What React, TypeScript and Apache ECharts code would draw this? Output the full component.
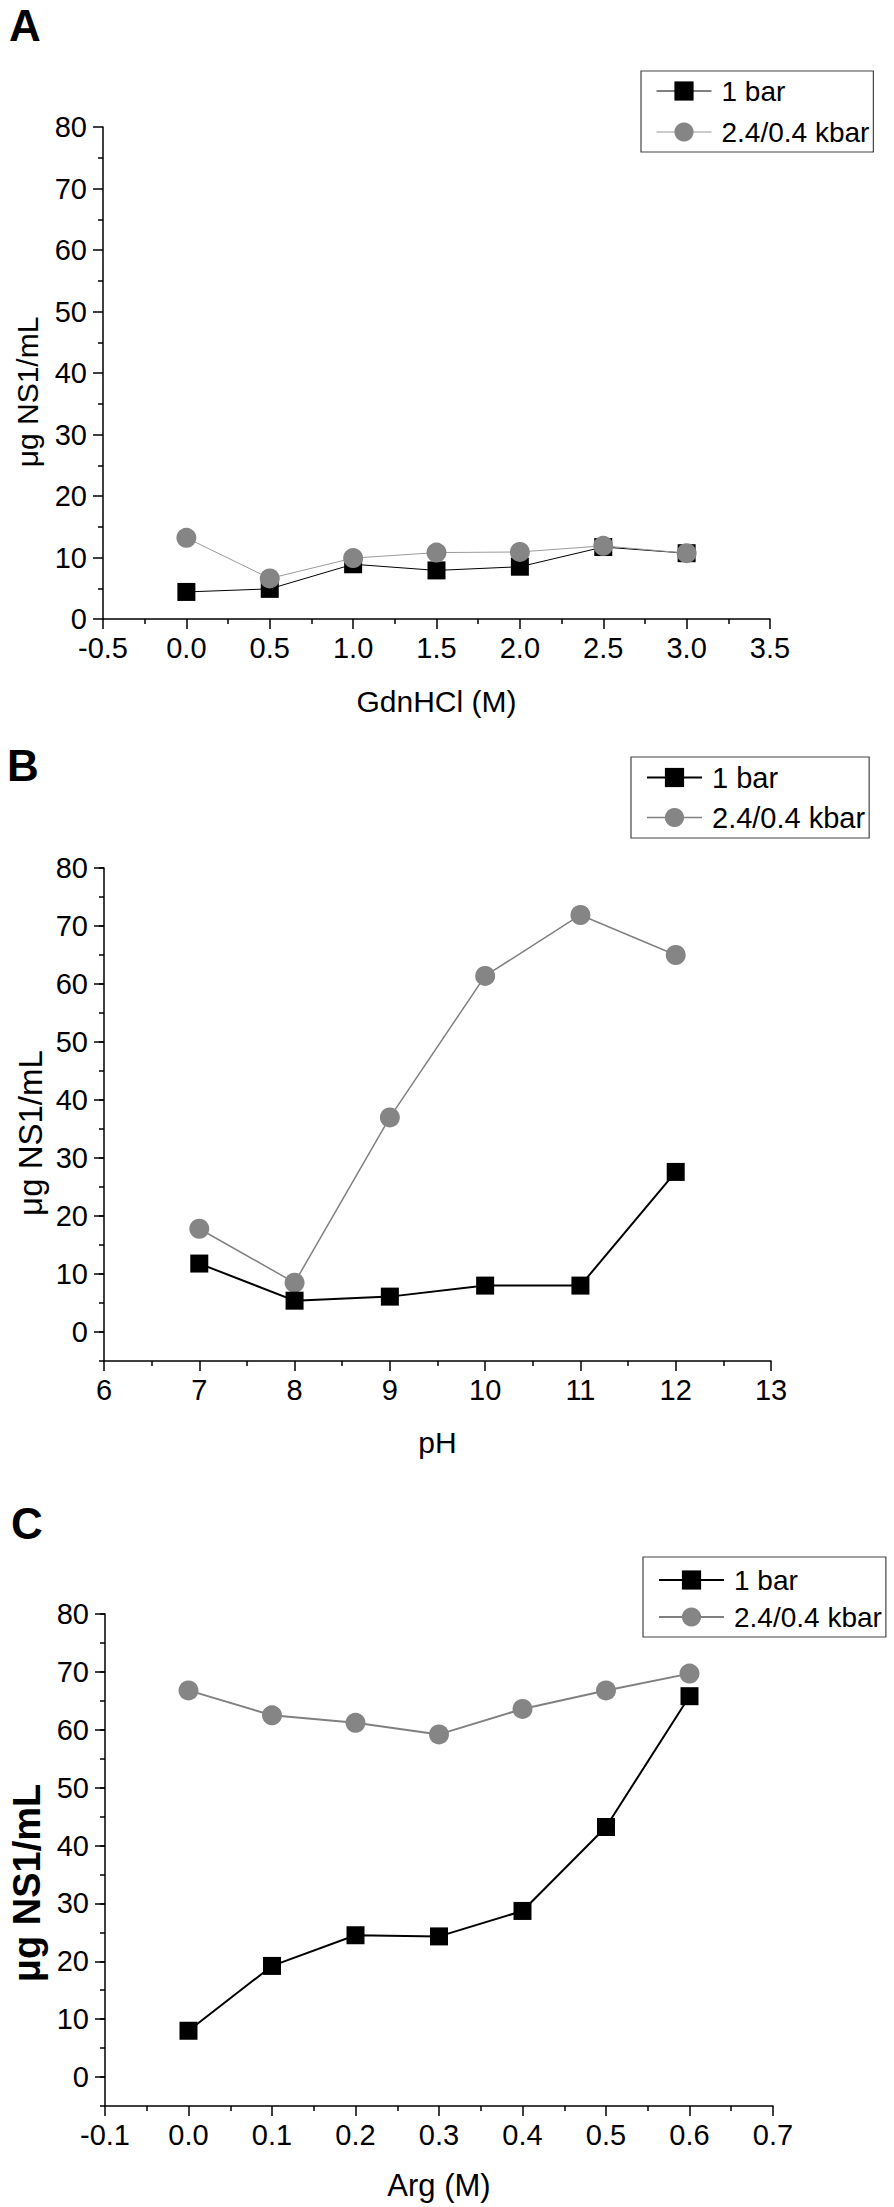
import React, { useEffect, useRef } from "react";
import * as echarts from "echarts";

// Panel A: GdnHCl (M)
const gdnX = [0, 0.5, 1.0, 1.5, 2.0, 2.5, 3.0];
const gdn1bar = [4.4, 4.9, 8.9, 7.9, 8.5, 11.7, 10.7];
const gdnHP = [13.2, 6.6, 9.9, 10.8, 10.9, 11.9, 10.7];

// Panel B: pH
const phX = [7, 8, 9, 10, 11, 12];
const ph1bar = [11.8, 5.4, 6.1, 8.0, 8.0, 27.6];
const phHP = [17.8, 8.5, 37.0, 61.4, 71.9, 65.0];

// Panel C: Arg (M)
const argX = [0, 0.1, 0.2, 0.3, 0.4, 0.5, 0.6];
const arg1bar = [8.0, 19.2, 24.5, 24.3, 28.7, 43.2, 65.8];
const argHP = [66.8, 62.5, 61.2, 59.2, 63.6, 66.8, 69.7];

const SERIES_NAMES = ["1 bar", "2.4/0.4 kbar"];
const PANEL_LABELS = ["A", "B", "C"];
const X_NAMES = ["GdnHCl (M)", "pH", "Arg (M)"];
const Y_NAME = "μg NS1/mL";

const FONT = "'Liberation Sans', Arial, Helvetica, sans-serif";
const BLACK = "#000000";
const GRAY = "#858585";

const pairs = (xs: number[], ys: number[]) => xs.map((x, i) => [x, ys[i]]);

function buildOption() {
  const axisLine = { show: true, onZero: false, lineStyle: { color: BLACK, width: 1.5 } };
  const tickStyle = { color: BLACK, width: 1.5 };
  const labelBase = { fontSize: 29, color: BLACK, fontFamily: FONT, showMinLabel: true, showMaxLabel: true };

  const xAxis = (
    gridIndex: number,
    min: number,
    max: number,
    interval: number,
    fmt: (v: number) => string,
    name: string,
    nameGap: number,
    nameSize: number
  ) => ({
    type: "value",
    gridIndex,
    min,
    max,
    interval,
    name,
    nameLocation: "middle",
    nameGap,
    nameTextStyle: { fontSize: nameSize, color: BLACK, fontFamily: FONT },
    axisLine,
    axisTick: { show: true, inside: false, length: 10, lineStyle: tickStyle },
    minorTick: { show: true, splitNumber: 2, length: 5, lineStyle: tickStyle },
    axisLabel: { ...labelBase, margin: 14, formatter: fmt },
    splitLine: { show: false },
    minorSplitLine: { show: false },
  });

  const hiddenX = (gridIndex: number) => ({
    type: "value",
    gridIndex,
    min: 0,
    max: 1,
    show: false,
  });

  const yTickAxis = (gridIndex: number, showLine: boolean) => ({
    type: "value",
    gridIndex,
    min: 0,
    max: 80,
    interval: 10,
    axisLine: showLine ? axisLine : { show: false },
    axisTick: { show: true, inside: false, length: 10, lineStyle: tickStyle },
    minorTick: { show: showLine, splitNumber: 2, length: 5, lineStyle: tickStyle },
    axisLabel: { ...labelBase, margin: 16, formatter: (v: number) => String(v) },
    splitLine: { show: false },
    minorSplitLine: { show: false },
  });

  const yLineAxis = (gridIndex: number) => ({
    type: "value",
    gridIndex,
    min: -5,
    max: 80,
    interval: 5,
    axisLine,
    axisTick: { show: true, inside: false, length: 5, lineStyle: tickStyle },
    minorTick: { show: false },
    axisLabel: { show: false },
    splitLine: { show: false },
    minorSplitLine: { show: false },
  });

  const fmt1 = (v: number) => v.toFixed(1);
  const fmt0 = (v: number) => String(Math.round(v));

  const legend = (
    left: number,
    top: number,
    gap: number,
    padTop: number,
    iconW: number,
    fontSize: number,
    w1: number,
    w2: number,
    gray: string
  ) => ({
    orient: "vertical",
    left,
    top,
    itemWidth: iconW,
    itemHeight: 24,
    itemGap: gap,
    padding: [padTop, 4, 6, 15],
    borderColor: "#444444",
    borderWidth: 1.2,
    selectedMode: false,
    textStyle: { fontSize, color: BLACK, fontFamily: FONT, padding: [0, 0, 0, 5] },
    data: [
      {
        name: SERIES_NAMES[0],
        itemStyle: { color: BLACK },
        lineStyle: { color: BLACK, width: w1 },
      },
      {
        name: SERIES_NAMES[1],
        itemStyle: { color: GRAY },
        lineStyle: { color: gray, width: w2 },
      },
    ],
  });

  const lineSeries = (
    name: string,
    xi: number,
    yi: number,
    data: number[][],
    symbol: string,
    size: number,
    color: string,
    lineColor: string,
    width: number
  ) => ({
    type: "line",
    name,
    xAxisIndex: xi,
    yAxisIndex: yi,
    data,
    symbol,
    symbolSize: size,
    showAllSymbol: true,
    itemStyle: { color, opacity: 1 },
    lineStyle: { color: lineColor, width },
    emphasis: { disabled: true },
  });

  const panelLabel = (text: string, x: number, y: number) => ({
    type: "text",
    x,
    y,
    style: {
      text,
      fontSize: 44,
      fontWeight: "bold",
      fontFamily: FONT,
      fill: BLACK,
      align: "left",
      verticalAlign: "middle",
    },
  });

  const yName = (x: number, y: number, size: number, weight: string) => ({
    type: "text",
    x,
    y,
    rotation: Math.PI / 2,
    style: {
      text: Y_NAME,
      fontSize: size,
      fontWeight: weight,
      fontFamily: FONT,
      fill: BLACK,
      align: "center",
      verticalAlign: "middle",
    },
  });

  return {
    animation: false,
    backgroundColor: "#ffffff",
    grid: [
      { left: 103, top: 127, width: 667, height: 492 },
      { left: 104, top: 868, width: 667, height: 493 },
      { left: 104, top: 868, width: 667, height: 464 },
      { left: 105, top: 1614, width: 668, height: 492 },
      { left: 105, top: 1614, width: 668, height: 463 },
    ],
    xAxis: [
      xAxis(0, -0.5, 3.5, 0.5, fmt1, X_NAMES[0], 67, 30),
      xAxis(1, 6, 13, 1, fmt0, X_NAMES[1], 66, 30),
      hiddenX(2),
      xAxis(3, -0.1, 0.7, 0.1, fmt1, X_NAMES[2], 64, 31),
      hiddenX(4),
    ],
    yAxis: [yTickAxis(0, true), yLineAxis(1), yTickAxis(2, false), yLineAxis(3), yTickAxis(4, false)],
    legend: [
      legend(641, 71, 13, 6, 55, 28, 1, 1, "#9a9a9a"),
      legend(631, 757, 11, 6, 55, 29, 2, 1.5, "#808080"),
      legend(643, 1557, 9, 9, 65, 28, 2, 2, "#808080"),
    ],
    series: [
      lineSeries(SERIES_NAMES[0], 0, 0, pairs(gdnX, gdn1bar), "rect", 18, BLACK, BLACK, 1),
      lineSeries(SERIES_NAMES[1], 0, 0, pairs(gdnX, gdnHP), "circle", 20, GRAY, "#9a9a9a", 1),
      lineSeries(SERIES_NAMES[1], 1, 1, pairs(phX, phHP), "circle", 20, GRAY, "#808080", 1.5),
      lineSeries(SERIES_NAMES[0], 1, 1, pairs(phX, ph1bar), "rect", 18, BLACK, BLACK, 2),
      lineSeries(SERIES_NAMES[0], 3, 3, pairs(argX, arg1bar), "rect", 18, BLACK, BLACK, 2),
      lineSeries(SERIES_NAMES[1], 3, 3, pairs(argX, argHP), "circle", 20, GRAY, "#808080", 2),
    ],
    graphic: [
      panelLabel(PANEL_LABELS[0], 9, 25),
      panelLabel(PANEL_LABELS[1], 7, 765),
      panelLabel(PANEL_LABELS[2], 11, 1523),
      yName(27, 392, 30, "normal"),
      yName(30, 1133, 33, "normal"),
      yName(27, 1883, 38, "bold"),
    ],
  };
}

export default function App() {
  const ref = useRef<HTMLDivElement>(null);
  useEffect(() => {
    if (!ref.current) return;
    const chart = echarts.init(ref.current, undefined, { renderer: "svg" });
    chart.setOption(buildOption() as any);
    return () => {
      chart.dispose();
    };
  }, []);
  return (
    <div
      ref={ref}
      style={{ position: "absolute", left: 0, top: 0, width: 894, height: 2207, background: "#fff" }}
    />
  );
}
